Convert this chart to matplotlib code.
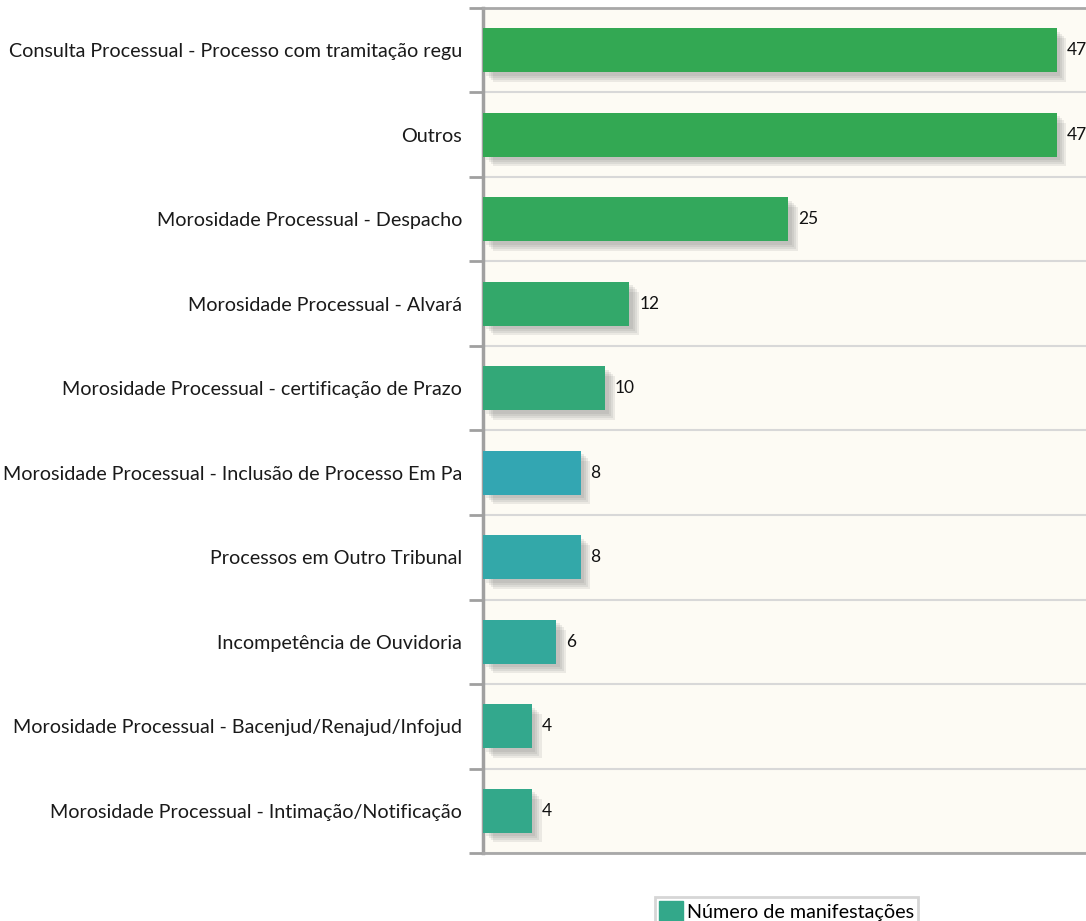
import numpy as np
import matplotlib.pyplot as plt
import matplotlib.patheffects as pe
from matplotlib.patches import Patch

plt.rcParams['font.family'] = ['Lato', 'DejaVu Sans']

categorias = [
    "Consulta Processual - Processo com tramitação regu",
    "Outros",
    "Morosidade Processual - Despacho",
    "Morosidade Processual - Alvará",
    "Morosidade Processual - certificação de Prazo",
    "Morosidade Processual - Inclusão de Processo Em Pa",
    "Processos em Outro Tribunal",
    "Incompetência de Ouvidoria",
    "Morosidade Processual - Bacenjud/Renajud/Infojud",
    "Morosidade Processual - Intimação/Notificação",
]
valores = [47, 47, 25, 12, 10, 8, 8, 6, 4, 4]
cores = ["#33A853", "#33A853", "#33A85C", "#33A86A", "#33A878",
         "#33A6B2", "#33A8A9", "#33A89B", "#33A88D", "#33A88A"]

fig = plt.figure(figsize=(10.86, 9.21), dpi=100)
ax = fig.add_axes([483/1086, 1-853/921, 1-483/1086, 845/921])
ax.set_facecolor("#FDFBF4")

y = np.arange(len(categorias))
barras = ax.barh(y, valores, height=0.52, color=cores, zorder=3)
# sombra difusa
sombra = [pe.SimplePatchShadow(offset=(o, -o), shadow_rgbFace="#777777", alpha=0.13)
          for o in (7, 5.5, 4, 2.5)]
for b in barras:
    b.set_path_effects(sombra + [pe.Normal()])

for yi, v in zip(y, valores):
    ax.text(v + 0.8, yi, str(v), va="center", ha="left", fontsize=12.5, color="#111111", zorder=4)

ax.set_xlim(0, 49.4)
ax.set_ylim(len(categorias) - 0.5, -0.5)
ax.set_xticks([])
ax.set_yticks(y)
ax.set_yticklabels(categorias, fontsize=14.2, color="#1a1a1a")
ax.tick_params(axis="y", which="major", length=0, pad=15)
ax.set_yticks(np.arange(len(categorias) + 1) - 0.5, minor=True)
ax.tick_params(axis="y", which="minor", length=10, width=2, color="#A0A0A0")
ax.grid(axis="y", which="minor", color="#D8D8D8", linewidth=1.5, zorder=1)

ax.spines["right"].set_visible(False)
ax.spines["left"].set_color("#A0A0A0")
ax.spines["left"].set_linewidth(2.5)
ax.spines["top"].set_color("#A8A8A8")
ax.spines["top"].set_linewidth(2)
ax.spines["bottom"].set_color("#A8A8A8")
ax.spines["bottom"].set_linewidth(2)

leg = fig.legend(handles=[Patch(color="#33A88A", label="Número de manifestações")],
                 loc="upper left", bbox_to_anchor=(655/1086, 1-897/921),
                 fontsize=14.2, frameon=True, fancybox=False, handlelength=1.2,
                 handleheight=1.2, handletextpad=0.2, borderpad=0.2, borderaxespad=0)
leg.get_frame().set_edgecolor("#CCCCCC")
leg.get_frame().set_linewidth(2)

fig.savefig("out.png", dpi=100)
